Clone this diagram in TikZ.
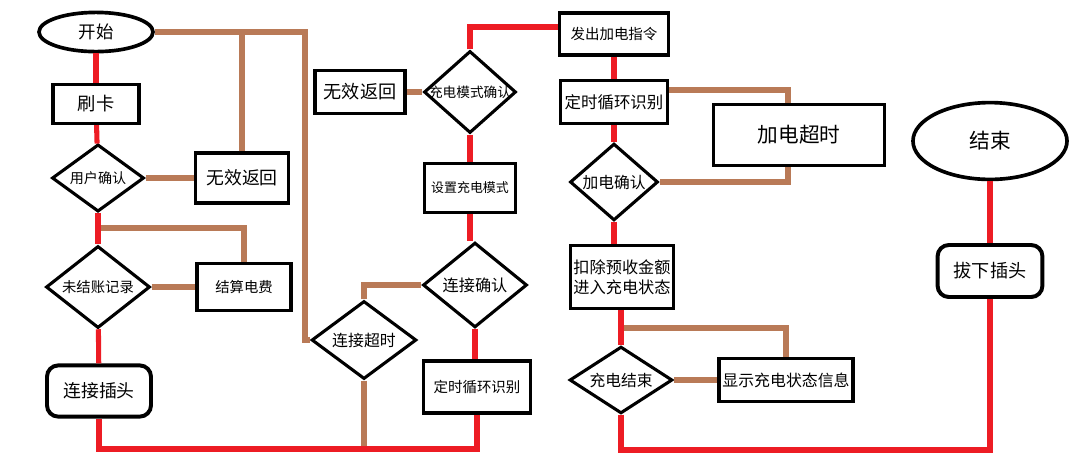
\documentclass[tikz,border=0pt]{standalone}
\usepackage{fontspec}
\setmainfont{Noto Sans CJK SC}
\usetikzlibrary{shapes.geometric}
\definecolor{paintRed}{RGB}{237,28,36}
\definecolor{paintBrown}{RGB}{185,122,87}
\tikzstyle{processStyle}=[shape = rectangle, draw, line width = 2.2pt, fill = white, inner sep = 1pt]
\tikzstyle{plugStyle}=[shape = rectangle, rounded corners = 8pt, draw, line width = 2.8pt, fill = white, inner sep = 1pt]
\tikzstyle{terminalStyle}=[shape = ellipse, draw, line width = 2.6pt, fill = white, inner sep = 0pt]
\tikzstyle{decisionStyle}=[shape = diamond, draw, line width = 2.2pt, fill = white, inner sep = 0pt]

\begin{document}
\begin{tikzpicture}[x = 0.025cm, y = -0.025cm]
\tikzstyle{mainEdge} = [draw = paintRed, line width = 3.6pt]
\tikzstyle{sideEdge} = [draw = paintBrown, line width = 3.6pt]
\useasboundingbox (0,0) rectangle (1080,470);
% left column
\node[terminalStyle, minimum width = 2.85cm, minimum height = 0.98cm, font = \fontsize{12.4}{14}\selectfont] (start) at (96,32) {开始};
\node[processStyle, minimum width = 2.15cm, minimum height = 0.98cm, font = \fontsize{13}{15}\selectfont] (card) at (96,104) {刷卡};
\node[decisionStyle, minimum width = 2.3cm, minimum height = 1.68cm, label = {[font = \fontsize{10}{12}\selectfont]center:用户确认}] (confirm) at (98,178) {};
\node[processStyle, minimum width = 2.32cm, minimum height = 1.25cm, font = \fontsize{12.7}{15}\selectfont] (invalidA) at (242,178) {无效返回};
\node[decisionStyle, minimum width = 2.6cm, minimum height = 2.05cm, label = {[font = \fontsize{10.2}{12}\selectfont]center:未结账记录}] (unpaid) at (98,287) {};
\node[processStyle, minimum width = 2.35cm, minimum height = 1.18cm, font = \fontsize{10.2}{12}\selectfont] (settle) at (244,287) {结算电费};
\node[plugStyle, minimum width = 2.6cm, minimum height = 1.28cm, font = \fontsize{12.7}{15}\selectfont] (plug) at (99,391) {连接插头};
% middle column
\node[processStyle, minimum width = 2.25cm, minimum height = 1.08cm, font = \fontsize{12.9}{15}\selectfont] (invalidB) at (360,92) {无效返回};
\node[decisionStyle, minimum width = 2.3cm, minimum height = 2.05cm, label = {[font = \fontsize{9.7}{12}\selectfont]center:充电模式确认}] (mode) at (470,92) {};
\node[processStyle, minimum width = 2.28cm, minimum height = 1.23cm, font = \fontsize{9.2}{11}\selectfont] (setMode) at (470,188) {设置充电模式};
\node[decisionStyle, minimum width = 2.6cm, minimum height = 2.12cm, label = {[font = \fontsize{11.5}{13}\selectfont]center:连接确认}] (linkOk) at (475,285) {};
\node[decisionStyle, minimum width = 2.62cm, minimum height = 1.95cm, label = {[font = \fontsize{11.3}{13}\selectfont]center:连接超时}] (linkOut) at (364,340) {};
\node[processStyle, minimum width = 2.68cm, minimum height = 1.3cm, font = \fontsize{10.3}{12}\selectfont] (scanB) at (477,387) {定时循环识别};
% right column
\node[processStyle, minimum width = 2.72cm, minimum height = 1.05cm, font = \fontsize{10.3}{12}\selectfont] (order) at (614,34) {发出加电指令};
\node[processStyle, minimum width = 2.68cm, minimum height = 1.08cm, font = \fontsize{11.7}{14}\selectfont] (scanA) at (614,102) {定时循环识别};
\node[processStyle, minimum width = 4.28cm, minimum height = 1.52cm, font = \fontsize{14.7}{17}\selectfont] (powerOut) at (799,135) {加电超时};
\node[decisionStyle, minimum width = 2.2cm, minimum height = 1.92cm, label = {[font = \fontsize{11.2}{13}\selectfont]center:加电确认}] (powerOk) at (614,182) {};
\node[processStyle, minimum width = 2.58cm, minimum height = 1.58cm, align = center, font = \fontsize{11.5}{14.2}\selectfont] (deduct) at (622,277) {扣除预收金额\\进入充电状态};
\node[decisionStyle, minimum width = 2.57cm, minimum height = 1.67cm, label = {[font = \fontsize{11.2}{13}\selectfont]center:充电结束}] (chargeEnd) at (621,380) {};
\node[processStyle, minimum width = 3.35cm, minimum height = 1.08cm, font = \fontsize{11.3}{13}\selectfont] (show) at (786,380) {显示充电状态信息};
\node[terminalStyle, minimum width = 3.85cm, minimum height = 1.92cm, font = \fontsize{14.7}{17}\selectfont] (finish) at (990,141) {结束};
\node[plugStyle, minimum width = 2.62cm, minimum height = 1.3cm, font = \fontsize{12.9}{15}\selectfont] (unplug) at (990,271) {拔下插头};
% corners of the connectors
\coordinate (backCorner) at (305,340);
\coordinate (branchA) at (98,228);
\coordinate (leftFoot) at (99,449);
\coordinate (modeTop) at (470,27);
\coordinate (timeTop) at (788,90);
\coordinate (timeBottom) at (788,182);
\coordinate (branchB) at (621,328);
\coordinate (rightFoot) at (621,450);
% side paths
\draw[sideEdge] (start) -| (backCorner) -- (linkOut);
\draw[sideEdge] (invalidA) -- (invalidA |- start);
\draw[sideEdge] (confirm) -- (invalidA);
\draw[sideEdge] (branchA) -| (settle);
\draw[sideEdge] (unpaid) -- (settle);
\draw[sideEdge] (invalidB) -- (mode);
\draw[sideEdge] (linkOut) |- (linkOk);
\draw[sideEdge] (linkOut) -- (linkOut |- leftFoot);
\draw[sideEdge] (scanA.east |- timeTop) -- (timeTop) -- (timeTop |- powerOut.north);
\draw[sideEdge] (timeTop |- powerOut.south) -- (timeBottom) -- (powerOk);
\draw[sideEdge] (branchB) -| (show);
\draw[sideEdge] (chargeEnd) -- (show);
% main paths
\draw[mainEdge] (start) -- (card);
\draw[mainEdge] (card) -- (confirm);
\draw[mainEdge] (confirm) -- (unpaid);
\draw[mainEdge] (unpaid) -- (plug);
\draw[mainEdge] (plug) -- (leftFoot) -| (scanB);
\draw[mainEdge] (mode) -- (modeTop) -- (modeTop -| order.west);
\draw[mainEdge] (mode) -- (setMode);
\draw[mainEdge] (setMode) -- (setMode |- linkOk.north);
\draw[mainEdge] (linkOk) -- (linkOk |- scanB.north);
\draw[mainEdge] (order) -- (scanA);
\draw[mainEdge] (scanA) -- (powerOk);
\draw[mainEdge] (powerOk) -- (powerOk |- deduct.north);
\draw[mainEdge] (deduct.south -| chargeEnd) -- (chargeEnd);
\draw[mainEdge] (chargeEnd) -- (rightFoot) -| (unplug);
\draw[mainEdge] (finish) -- (unplug);
\end{tikzpicture}
\end{document}
